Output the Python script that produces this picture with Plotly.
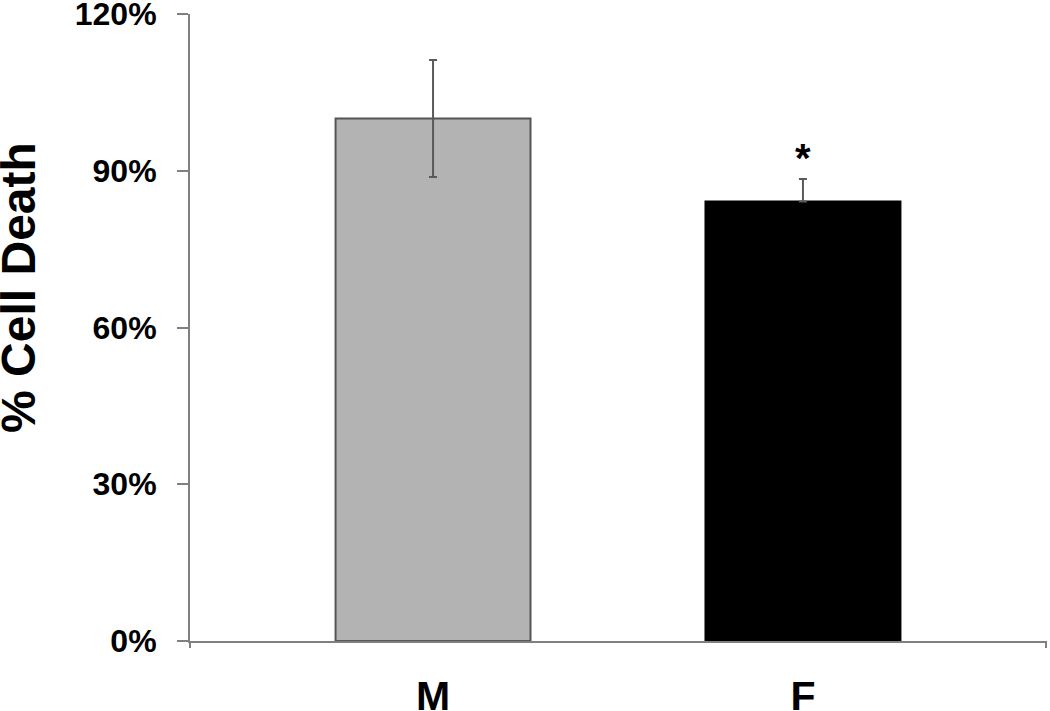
import plotly.graph_objects as go

categories = ["M", "F"]
values = [100.0, 84.1]
errors_upper = [11.2, 4.3]
errors_lower = [11.2, 0.0]
bar_colors = ["#b3b3b3", "#000000"]
bar_line_colors = ["#555555", "#000000"]
ytick_vals = [0, 30, 60, 90, 120]
ytick_text = ["0%", "30%", "60%", "90%", "120%"]
sig_labels = ["", "*"]

font_family = "Liberation Sans, Arial, sans-serif"
axis_color = "#808080"

fig = go.Figure()
fig.add_trace(go.Bar(
    x=categories,
    y=values,
    width=0.527,
    marker=dict(color=bar_colors, line=dict(color=bar_line_colors, width=2)),
    error_y=dict(type="data", symmetric=False, array=errors_upper, arrayminus=errors_lower,
                 visible=True, color="#5a5a5a", thickness=2, width=4),
    showlegend=False,
))

for cat, v, e, s in zip(categories, values, errors_upper, sig_labels):
    if s:
        fig.add_annotation(x=cat, y=v + e, text="<b>" + s + "</b>", showarrow=False,
                           yanchor="bottom", yshift=-3,
                           font=dict(family=font_family, size=40, color="black"))

fig.add_annotation(xref="paper", yref="paper", x=-0.2003, y=0.564,
                   text="<b>% Cell Death</b>", textangle=-90, showarrow=False,
                   xanchor="center", yanchor="middle",
                   font=dict(family=font_family, size=48, color="black"))

# end ticks of the category axis
for xd in [0, 1]:
    fig.add_shape(type="line", xref="x domain", yref="paper", x0=xd, x1=xd,
                  y0=0, y1=-0.011, line=dict(color=axis_color, width=2))

fig.update_layout(
    width=1050, height=711,
    margin=dict(l=190, r=4, t=14, b=70, autoexpand=False),
    plot_bgcolor="white", paper_bgcolor="white",
    xaxis=dict(range=[-0.657, 1.657], showline=True, linecolor=axis_color, linewidth=2,
               ticks="", showgrid=False, zeroline=False, automargin=False,
               tickfont=dict(family=font_family, size=41, color="black"),
               ticklabelstandoff=18,
               tickprefix="<b>", ticksuffix="</b>"),
    yaxis=dict(range=[0, 120], tickvals=ytick_vals, ticktext=["<b>" + t + "</b>" for t in ytick_text],
               showline=True, linecolor=axis_color, linewidth=2,
               ticks="outside", ticklen=11, tickwidth=2, tickcolor=axis_color,
               showgrid=False, zeroline=False, automargin=False,
               ticklabeloverflow="allow",
               tickfont=dict(family=font_family, size=32, color="black"),
               ticklabelstandoff=14),
)

fig.write_html("out.html", config={"displayModeBar": False},
               post_script="document.body.style.margin='0';")
